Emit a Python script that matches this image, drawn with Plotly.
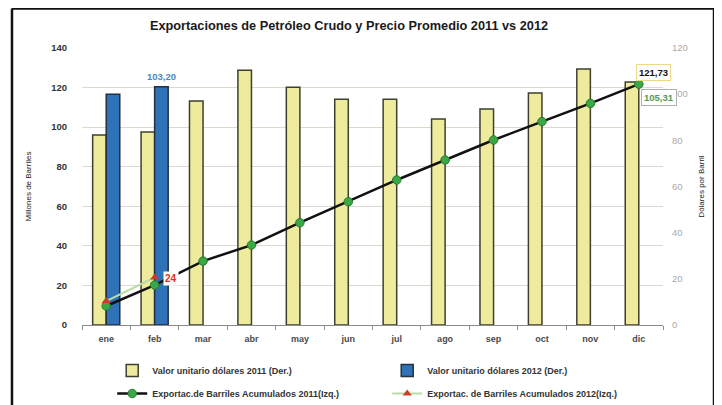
import plotly.graph_objects as go

meses = ["ene", "feb", "mar", "abr", "may", "jun", "jul", "ago", "sep", "oct", "nov", "dic"]
precio_2011 = [82.3, 83.6, 97.0, 110.4, 103.0, 97.8, 97.8, 89.2, 93.6, 100.5, 110.9, 105.31]
precio_2012 = [100.0, 103.20, None, None, None, None, None, None, None, None, None, None]
acum_2011 = [9.6, 20.2, 32.3, 40.4, 51.7, 62.3, 73.3, 83.4, 93.5, 102.8, 112.0, 121.73]
acum_2012 = [12.1, 24.0, None, None, None, None, None, None, None, None, None, None]

FONT = "Liberation Sans"
fig = go.Figure()

# empty trace so the base (left, gridded) axis exists beneath the bars
fig.add_trace(go.Scatter(x=[], y=[], yaxis="y", showlegend=False, hoverinfo="skip"))
fig.add_trace(go.Bar(
    x=meses, y=precio_2011, name="Valor unitario dólares 2011 (Der.)",
    marker=dict(color="#eeec9c", line=dict(color="#3f3f2f", width=1.5)),
    yaxis="y2", offsetgroup="a", legend="legend"))
fig.add_trace(go.Bar(
    x=meses, y=precio_2012, name="Valor unitario dólares 2012 (Der.)",
    marker=dict(color="#2f72b8", line=dict(color="#23303f", width=1.5)),
    yaxis="y2", offsetgroup="b", legend="legend"))
fig.add_trace(go.Scatter(
    x=meses, y=acum_2011, name="Exportac.de Barriles Acumulados 2011(Izq.)",
    mode="lines+markers", line=dict(color="#111111", width=2.5), yaxis="y3",
    marker=dict(symbol="circle", size=8.5, color="#3aa845", line=dict(color="#2a7a35", width=1)),
    legend="legend2"))
fig.add_trace(go.Scatter(
    x=meses, y=acum_2012, name="Exportac. de Barriles Acumulados 2012(Izq.)",
    mode="lines+markers", line=dict(color="#b8dca8", width=2), yaxis="y3",
    marker=dict(symbol="triangle-up", size=8, color="#d03a2a"), legend="legend2"))

ann_font = dict(family=FONT, size=9.5, weight="bold")
fig.add_annotation(x=meses[1], y=precio_2012[1], yref="y2", xshift=7, yshift=10,
                   text="103,20", showarrow=False,
                   font=dict(ann_font, color="#4a86c5"))
fig.add_annotation(x=meses[1], y=acum_2012[1], yref="y3", xshift=16, yshift=-1,
                   text="24", showarrow=False, bgcolor="white",
                   font=dict(family=FONT, size=10, weight="bold", color="#e03020"))
fig.add_annotation(x=meses[11], y=acum_2011[11], yref="y3", xshift=15, yshift=12,
                   text="121,73", showarrow=False, bgcolor="white",
                   bordercolor="#ecd88a", borderwidth=1, borderpad=2,
                   font=dict(ann_font, color="#111111"))
fig.add_annotation(x=meses[11], y=precio_2011[11], yref="y2", xshift=20, yshift=-16,
                   text="105,31", showarrow=False, bgcolor="white",
                   bordercolor="#b0b0b0", borderwidth=1, borderpad=2,
                   font=dict(ann_font, color="#4e9a5a"))

# outer frame
for x0, y0, x1, y1 in [(-0.1205, 1.1426, 1.0878, 1.1426), (-0.1205, 1.1426, -0.1205, -0.3),
                       (1.0878, 1.1426, 1.0878, -0.3)]:
    fig.add_shape(type="line", xref="paper", yref="paper", x0=x0, y0=y0, x1=x1, y1=y1,
                  line=dict(color="#111111", width=2.5))

legend_common = dict(orientation="h", xanchor="left", yanchor="top",
                     entrywidth=230, entrywidthmode="pixels", traceorder="normal",
                     itemwidth=30, font=dict(size=9, weight="bold", color="#333333"),
                     bgcolor="rgba(0,0,0,0)")

fig.update_layout(
    width=714, height=397,
    margin=dict(l=74, r=59, t=40, b=80, autoexpand=False),
    paper_bgcolor="white", plot_bgcolor="white",
    barmode="group", bargap=0.44, bargroupgap=0,
    font=dict(family=FONT, size=9, color="#333333"),
    title=dict(text="Exportaciones de Petróleo Crudo y Precio Promedio 2011 vs 2012",
               x=0.4776, xanchor="center", y=0.957, yanchor="middle",
               font=dict(family=FONT, size=12.75, weight="bold", color="#1a1a1a")),
    xaxis=dict(type="category", range=[-0.5, 11.5], showgrid=False, showline=True,
               linecolor="#8a8a8a", linewidth=1.2, ticks="outside", tickson="boundaries",
               ticklen=4, tickcolor="#8a8a8a", automargin=False, ticklabelstandoff=5,
               tickfont=dict(size=9, weight="bold", color="#4a4a4a")),
    yaxis=dict(range=[0, 140], dtick=20, showgrid=True, gridcolor="#ddd8d0", gridwidth=1.2,
               zeroline=False, ticks="", ticklabelstandoff=14, automargin=False,
               tickfont=dict(size=9.5, weight="bold", color="#333333"),
               title=dict(text="Millones de Barriles", standoff=18,
                          font=dict(size=8, color="#222222"))),
    yaxis2=dict(range=[0, 120], dtick=20, overlaying="y", side="right", showgrid=False,
                zeroline=False, ticks="", ticklabelstandoff=8, automargin=False,
                tickfont=dict(size=9.5, color="#aaaaaa"),
                title=dict(text="Dólares por Barril", standoff=11,
                           font=dict(size=8, color="#222222"))),
    yaxis3=dict(range=[0, 140], overlaying="y", visible=False, showgrid=False),
    legend=dict(legend_common, x=0.052, y=-0.112),
    legend2=dict(legend_common, x=0.052, y=-0.195),
    showlegend=True,
)

fig.write_html("out.html")
